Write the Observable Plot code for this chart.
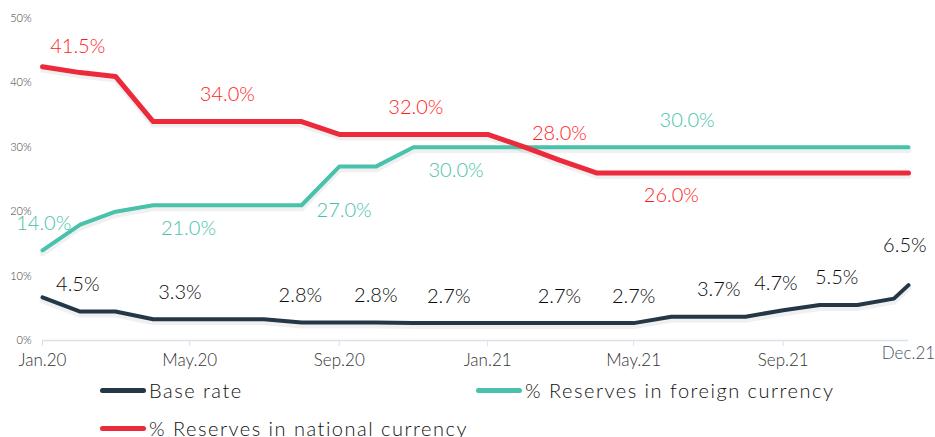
<!DOCTYPE html>
<html><head><meta charset="utf-8">
<script src="https://cdn.jsdelivr.net/npm/d3@7"></script>
<script src="https://cdn.jsdelivr.net/npm/@observablehq/plot@0.6"></script>
<style>
body{margin:0;background:#fff;font-family:Lato,"Open Sans",sans-serif;}
#chart{width:935px;height:372px;}
.legend{position:relative;height:65px;width:935px;}
.item{position:absolute;display:flex;align-items:center;font-size:20px;font-weight:300;letter-spacing:1.5px;color:#111;height:38px;white-space:nowrap;}
.sw{width:46px;height:5px;border-radius:3px;margin-right:3px;}
svg text{font-weight:300;}
</style></head><body>
<div id="chart"></div>
<div class="legend" id="legend"></div>
<script>
// ---- data ----
const dates = ["2020-01-01","2020-02-01","2020-03-01","2020-04-01","2020-05-01","2020-06-01",
  "2020-07-01","2020-08-01","2020-09-01","2020-10-01","2020-11-01","2020-12-01",
  "2021-01-01","2021-02-01","2021-03-01","2021-04-01","2021-05-01","2021-06-01",
  "2021-07-01","2021-08-01","2021-09-01","2021-10-01","2021-11-01","2021-12-01","2021-12-13"];
const baseRate = [6.7,4.5,4.5,3.3,3.3,3.3,3.3,2.8,2.8,2.8,2.7,2.7,2.7,2.7,2.7,2.7,2.7,3.7,3.7,3.7,4.7,5.5,5.5,6.5,8.6];
const foreignReserves = [14,18,20,21,21,21,21,21,27,27,30,30,30,30,30,30,30,30,30,30,30,30,30,30,30];
const nationalReserves = [42.5,41.6,41.0,34,34,34,34,34,32,32,32,32,32,30,28,26,26,26,26,26,26,26,26,26,26];

const seriesNames = ["Base rate","% Reserves in foreign currency","% Reserves in national currency"];
const seriesColors = ["#243746","#48C2AB","#EC2A3B"];
const labelColors = ["#0a0a0a","#48C2AB","#FF1B24"];

const yTicks = [0,10,20,30,40,50];
const xTicks = ["2020-01-01","2020-05-01","2020-09-01","2021-01-01","2021-05-01","2021-09-01"];
const endLabel = "Dec.21";
const monthAbbr = ["Jan","Feb","Mar","Apr","May","Jun","Jul","Aug","Sep","Oct","Nov","Dec"];

// data labels (date, value, placement)
const baseLabelDates = ["2020-01-30","2020-04-23","2020-07-31","2020-10-01","2020-11-30","2021-03-01","2021-05-01","2021-07-10","2021-08-26","2021-10-15","2021-12-10"];
const baseLabelValues = [4.5,3.3,2.8,2.8,2.7,2.7,2.7,3.7,4.7,5.5,6.5];
const baseLabelPlace = ["above","above","above","above","above","above","above","above","above","above","high"];
const foreignLabelDates = ["2020-01-02","2020-04-30","2020-09-05","2020-12-06","2021-06-14"];
const foreignLabelValues = [14,21,27,30,30];
const foreignLabelPlace = ["above","below","low","below","above"];
const nationalLabelDates = ["2020-01-30","2020-06-01","2020-11-03","2021-03-01","2021-06-01"];
const nationalLabelValues = [41.5,34,32,28,26];
const nationalLabelPlace = ["above","above","above","above","below"];

// ---- build ----
const parse = s => new Date(s + "T00:00:00Z");
const seriesValues = [baseRate, foreignReserves, nationalReserves];
const rows = seriesValues.map(vals => dates.map((d, i) => ({date: parse(d), value: vals[i]})));
const labelSets = [
  [baseLabelDates, baseLabelValues, baseLabelPlace],
  [foreignLabelDates, foreignLabelValues, foreignLabelPlace],
  [nationalLabelDates, nationalLabelValues, nationalLabelPlace]
].map(([ds, vs, ps]) => ds.map((d, i) => ({date: parse(d), value: vs[i], place: ps[i]})));
const placeOffset = {above: -27, below: 23, low: 44, high: -53};
const fmtTick = d => monthAbbr[d.getUTCMonth()] + "." + String(d.getUTCFullYear()).slice(2);

const marks = [
  Plot.ruleY([0], {stroke: "#D9E1EA", strokeWidth: 1.5}),
  Plot.axisX({ticks: xTicks.map(parse), tickFormat: fmtTick, tickSize: 6, tickPadding: 7,
    stroke: "#D9E1EA", fill: "#333333", fontSize: 17, label: null}),
  Plot.axisY({ticks: yTicks, tickFormat: d => d + "%", tickSize: 0, tickPadding: 11,
    fill: "#404040", fontSize: 11, label: null}),
  Plot.text([parse(dates[dates.length - 1])], {x: d => d, y: () => yTicks[0], text: () => endLabel,
    dy: 13, fill: "#44546A", fontSize: 17})
];
// shadows
rows.forEach(r => marks.push(Plot.line(r, {x: "date", y: "value", dy: 3, stroke: "#000",
  strokeOpacity: 0.06, strokeWidth: 6, strokeLinejoin: "round", curve: "linear"})));
rows.forEach((r, k) => marks.push(Plot.line(r, {x: "date", y: "value", stroke: seriesColors[k],
  strokeWidth: k === 2 ? 5 : 4, strokeLinejoin: "round", strokeLinecap: "round"})));
labelSets.forEach((ls, k) => {
  Object.keys(placeOffset).forEach(p => {
    marks.push(Plot.text(ls, {filter: d => d.place === p, x: "date", y: "value",
      text: d => d.value.toFixed(1) + "%", dy: placeOffset[p], fill: labelColors[k], fontSize: 20}));
  });
});

const chart = Plot.plot({
  width: 935, height: 372,
  marginTop: 18, marginBottom: 32, marginLeft: 42, marginRight: 27,
  x: {type: "utc", domain: [parse(dates[0]), parse(dates[dates.length - 1])]},
  y: {domain: [yTicks[0], yTicks[yTicks.length - 1]]},
  style: {fontFamily: "Lato, 'Open Sans', sans-serif", background: "white", overflow: "visible"},
  marks
});
document.getElementById("chart").appendChild(chart);

// legend
const legendPos = [[100, -1], [476, -1], [100, 37]];
const legend = document.getElementById("legend");
seriesNames.forEach((name, k) => {
  const it = document.createElement("div");
  it.className = "item";
  it.style.left = legendPos[k][0] + "px";
  it.style.top = legendPos[k][1] + "px";
  const sw = document.createElement("span");
  sw.className = "sw";
  sw.style.background = seriesColors[k];
  const tx = document.createElement("span");
  tx.textContent = name;
  it.appendChild(sw); it.appendChild(tx);
  legend.appendChild(it);
});
</script>
</body></html>
